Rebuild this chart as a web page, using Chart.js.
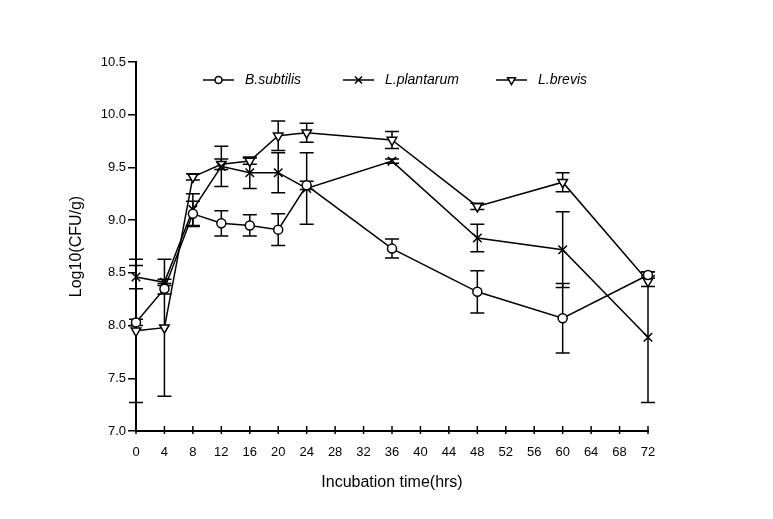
<!DOCTYPE html>
<html><head><meta charset="utf-8">
<script src="https://cdn.jsdelivr.net/npm/chart.js@4/dist/chart.umd.min.js"></script>
<style>html,body{margin:0;padding:0;background:#fff}#wrap{width:773px;height:519px}</style>
</head><body><div id="wrap"><canvas id="c" width="773" height="519"></canvas></div>
<script>
const hours = [0, 4, 8, 12, 16, 20, 24, 36, 48, 60, 72];
const bSubtilis = [8.03, 8.35, 9.06, 8.97, 8.95, 8.91, 9.33, 8.73, 8.32, 8.07, 8.48];
const bSubtilisErr = [0.03, 0.05, 0.12, 0.12, 0.10, 0.15, 0.04, 0.09, 0.20, 0.33, 0.03];
const lPlantarum = [8.46, 8.41, 9.10, 9.51, 9.45, 9.45, 9.30, 9.56, 8.83, 8.72, 7.89];
const lPlantarumErr = [0.11, 0.03, 0.15, 0.19, 0.15, 0.19, 0.34, 0.02, 0.13, 0.36, 0.62];
const lBrevis = [7.95, 7.98, 9.41, 9.53, 9.56, 9.80, 9.83, 9.76, 9.13, 9.36, 8.42];
const lBrevisErr = [0.68, 0.65, 0.03, 0.05, 0.03, 0.14, 0.09, 0.08, 0.03, 0.09, 0.05];
const seriesNames = ['B.subtilis', 'L.plantarum', 'L.brevis'];
const xTicks = [0, 4, 8, 12, 16, 20, 24, 28, 32, 36, 40, 44, 48, 52, 56, 60, 64, 68, 72];

function pts(vals){ return hours.map((h,i)=>({x:h,y:vals[i]})); }

const FONT = 'Liberation Sans, Arial, sans-serif';
const styles = [
  {pointStyle:'circle', radius:4.5, rotation:0},
  {pointStyle:'crossRot', radius:6, rotation:0},
  {pointStyle:'triangle', radius:5.5, rotation:180}
];
const errs = [bSubtilisErr, lPlantarumErr, lBrevisErr];

const errorBars = {
  id:'errorBars',
  beforeDatasetsDraw(chart){
    const ctx = chart.ctx, ys = chart.scales.y, xs = chart.scales.x;
    ctx.save();
    ctx.strokeStyle = '#000'; ctx.lineWidth = 1.5;
    chart.data.datasets.forEach((ds, di)=>{
      ds.data.forEach((p, i)=>{
        const e = errs[di][i];
        const x = xs.getPixelForValue(p.x);
        const y1 = ys.getPixelForValue(p.y + e), y2 = ys.getPixelForValue(p.y - e);
        ctx.beginPath();
        ctx.moveTo(x, y1); ctx.lineTo(x, y2);
        ctx.moveTo(x-7, y1); ctx.lineTo(x+7, y1);
        ctx.moveTo(x-7, y2); ctx.lineTo(x+7, y2);
        ctx.stroke();
      });
    });
    ctx.restore();
  },
  afterDraw(chart){
    const ctx = chart.ctx, xs = chart.scales.x, a = chart.chartArea;
    ctx.save();
    ctx.strokeStyle = '#000'; ctx.lineWidth = 1.5;
    xs.ticks.forEach(t=>{
      const x = xs.getPixelForValue(t.value);
      ctx.beginPath(); ctx.moveTo(x, a.bottom+3); ctx.lineTo(x, a.bottom-5); ctx.stroke();
    });
    const ly = a.top + 18;
    const items = [67, 207, 360];
    chart.data.datasets.forEach((ds, di)=>{
      const x0 = a.left + items[di];
      ctx.strokeStyle = '#000'; ctx.lineWidth = 1.5;
      ctx.beginPath(); ctx.moveTo(x0, ly); ctx.lineTo(x0+31, ly); ctx.stroke();
      ctx.fillStyle = '#fff';
      Chart.helpers.drawPoint(ctx, {pointStyle: styles[di].pointStyle, radius: styles[di].radius-1, rotation: styles[di].rotation, borderWidth:1.5}, x0+15.5, ly);
      ctx.fillStyle = '#000';
      ctx.font = 'italic 14px ' + FONT;
      ctx.textBaseline = 'middle'; ctx.textAlign = 'left';
      ctx.fillText(seriesNames[di], x0 + 42, ly);
    });
    ctx.restore();
  }
};

new Chart(document.getElementById('c'), {
  type:'line',
  data:{
    datasets:[bSubtilis, lPlantarum, lBrevis].map((v, di)=>({
      label: seriesNames[di],
      data: pts(v),
      borderColor:'#000', borderWidth:1.5,
      pointStyle: styles[di].pointStyle, pointRadius: styles[di].radius,
      pointRotation: styles[di].rotation,
      pointBackgroundColor:'#fff', pointBorderColor:'#000', pointBorderWidth:1.5,
      tension:0, fill:false, clip:false
    }))
  },
  options:{
    responsive:false, animation:false, devicePixelRatio:1,
    layout:{padding:{left:63, right:125, top:62, bottom:23}},
    plugins:{legend:{display:false}, tooltip:{enabled:false}},
    scales:{
      x:{
        type:'linear', min:0, max:72,
        afterBuildTicks(s){ s.ticks = xTicks.map(v=>({value:v})); },
        grid:{display:false},
        border:{display:true, color:'#000', width:2},
        ticks:{color:'#000', font:{family:FONT, size:13}, padding:6, maxRotation:0, autoSkip:false},
        title:{display:true, text:'Incubation time(hrs)', color:'#000', font:{family:FONT, size:16}, padding:{top:4, bottom:4}},
        afterFit(s){ s.height = 519 - 431 - 23; }
      },
      y:{
        min:7.0, max:10.5,
        afterBuildTicks(s){ const t=[]; for(let v=7.0; v<=10.5001; v+=0.5) t.push({value:+v.toFixed(1)}); s.ticks=t; },
        grid:{display:true, drawOnChartArea:false, drawTicks:true, tickLength:8, color:'#000', lineWidth:1.5},
        border:{display:true, color:'#000', width:2},
        ticks:{color:'#000', font:{family:FONT, size:13}, padding:2, callback:v=>Number(v).toFixed(1)},
        title:{display:true, text:'Log10(CFU/g)', color:'#000', font:{family:FONT, size:16}, padding:{top:4, bottom:4}},
        afterFit(s){ s.width = 136 - 63; }
      }
    }
  },
  plugins:[errorBars]
});
</script>
</body></html>
